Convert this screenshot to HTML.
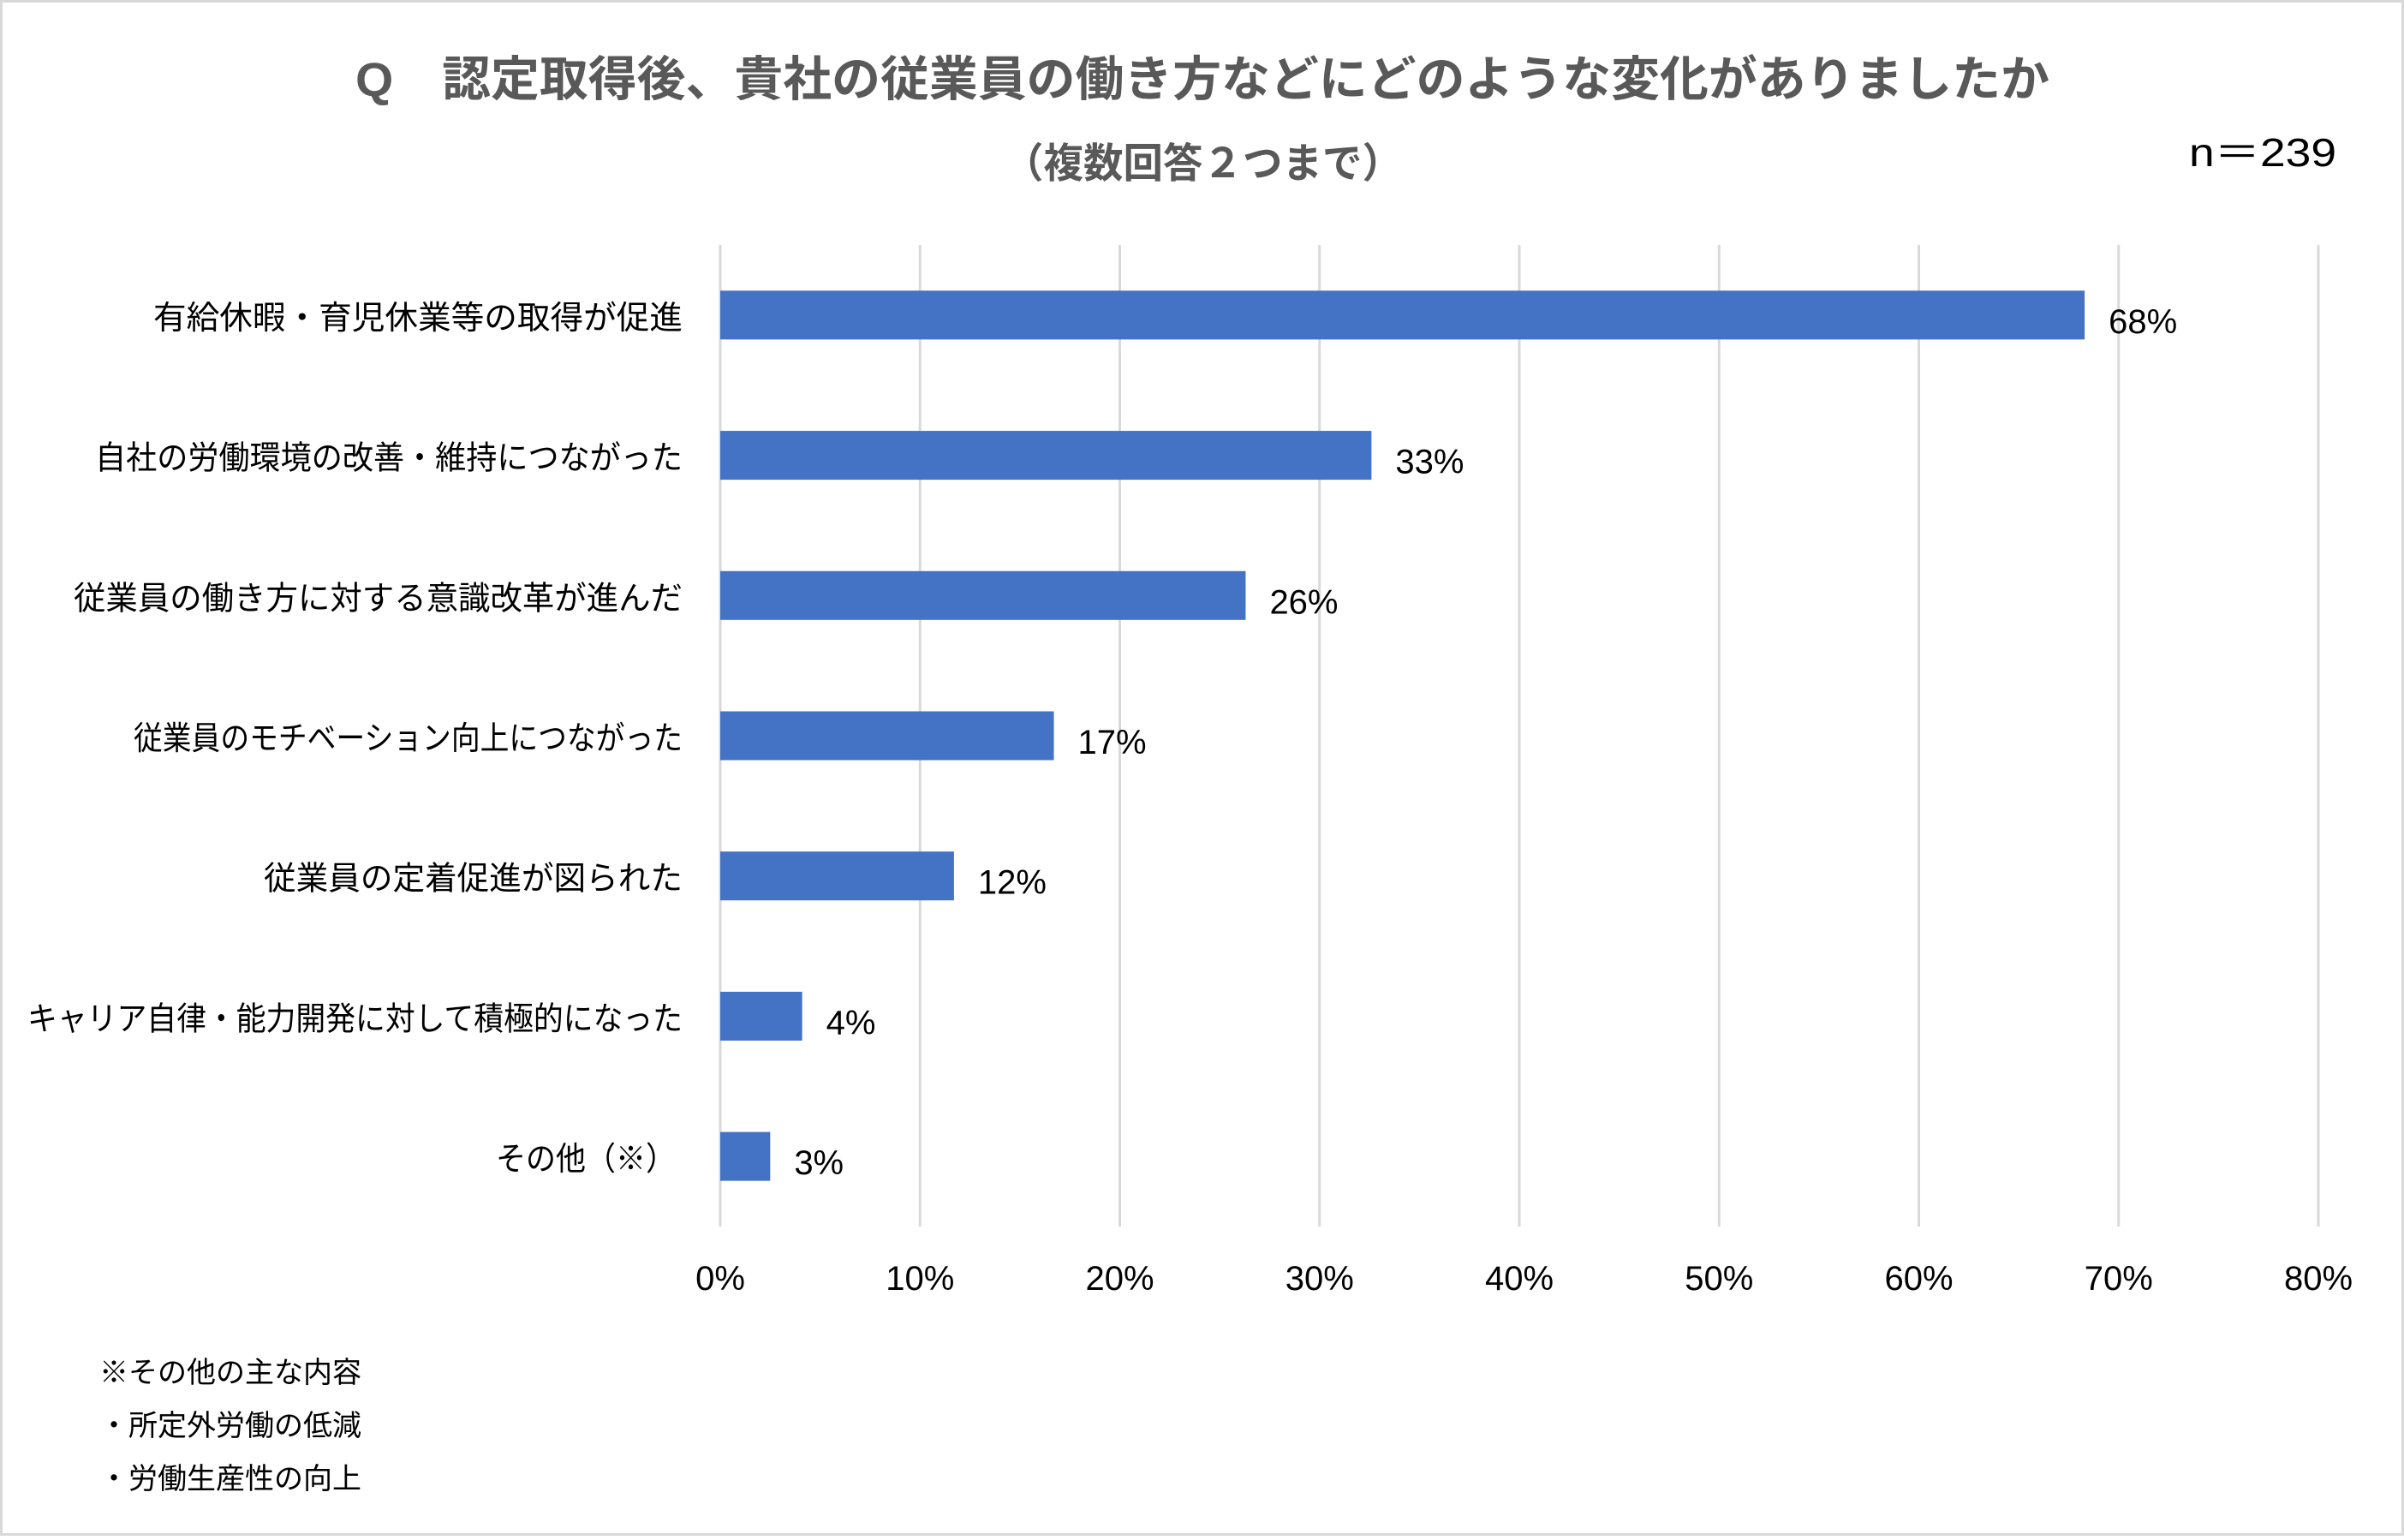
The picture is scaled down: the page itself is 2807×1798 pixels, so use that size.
<!DOCTYPE html>
<html><head><meta charset="utf-8">
<style>
html,body{margin:0;padding:0;background:#fff;}
body{width:2807px;height:1793px;overflow:hidden;font-family:"Liberation Sans","Noto Sans CJK JP",sans-serif;}
svg text{font-family:"Liberation Sans","Noto Sans CJK JP",sans-serif;}
</style></head>
<body>
<svg id="chart" width="2807" height="1793" viewBox="0 0 2807 1793">
<rect x="1.5" y="1.5" width="2804" height="1790" fill="#fff" stroke="#d9d9d9" stroke-width="3"/>
<text x="415" y="112" textLength="1978" lengthAdjust="spacingAndGlyphs" font-size="56" font-weight="bold" fill="#595959">Q　認定取得後、貴社の従業員の働き方などにどのような変化がありましたか</text>
<text x="1172" y="207" textLength="465" lengthAdjust="spacingAndGlyphs" font-size="48" font-weight="bold" fill="#595959">（複数回答２つまで）</text>
<text x="2728" y="194" text-anchor="end" textLength="172" lengthAdjust="spacingAndGlyphs" font-size="46" fill="#000">n＝239</text>
<g id="grid"></g><g id="bars"></g><g id="labels"></g>
<text x="116" y="1614" font-size="34" fill="#000">※その他の主な内容</text>
<text x="116" y="1676" font-size="34" fill="#000">・所定外労働の低減</text>
<text x="116" y="1738" font-size="34" fill="#000">・労働生産性の向上</text>
</svg>
<script>
const categories=["有給休暇・育児休業等の取得が促進","自社の労働環境の改善・維持につながった","従業員の働き方に対する意識改革が進んだ","従業員のモチベーション向上につながった","従業員の定着促進が図られた","キャリア自律・能力開発に対して積極的になった","その他（※）"];
const values=[68.3,32.6,26.3,16.7,11.7,4.1,2.5];
const printed=["68%","33%","26%","17%","12%","4%","3%"];
const ticks=[0,10,20,30,40,50,60,70,80];
const tickLabels=["0%","10%","20%","30%","40%","50%","60%","70%","80%"];
const NS="http://www.w3.org/2000/svg";
const labelWidths=[618,686,711,641,489,765,210];
const X0=841,X1=2707,XMAX=80,Y0=286,Y1=1432;
const x=v=>X0+(X1-X0)*v/XMAX;
const band=(Y1-Y0)/categories.length;
const yc=i=>Y0+band*(i+0.5);
const barH=57;
function mk(t,a,p){const e=document.createElementNS(NS,t);for(const k in a)e.setAttribute(k,a[k]);p.appendChild(e);return e;}
const grid=document.getElementById('grid'),bars=document.getElementById('bars'),labels=document.getElementById('labels');
ticks.forEach((t,i)=>{
 const l=mk('line',{x1:x(t),x2:x(t),y1:Y0,y2:Y1,stroke:'#d9d9d9','stroke-width':3},grid);
 
 
 const tx=mk('text',{x:x(t),y:1506,'text-anchor':'middle','font-size':40,fill:'#000'},labels);
 tx.textContent=tickLabels[i];
 
 
});
categories.forEach((c,i)=>{
 const r=mk('rect',{x:x(0),y:yc(i)-barH/2,width:x(values[i])-x(0),height:barH,fill:'#4472c4'},bars);
 
 
 const cl=mk('text',{x:797-labelWidths[i]-(i==6?8:0),y:yc(i)+16,textLength:labelWidths[i],lengthAdjust:'spacingAndGlyphs','font-size':38,fill:'#000'},labels);
 cl.textContent=c;
 
 
 const vl=mk('text',{x:x(values[i])+28,y:yc(i)+21,'font-size':40,fill:'#000'},labels);
 vl.textContent=printed[i];
 
 
});
</script>
</body></html>
